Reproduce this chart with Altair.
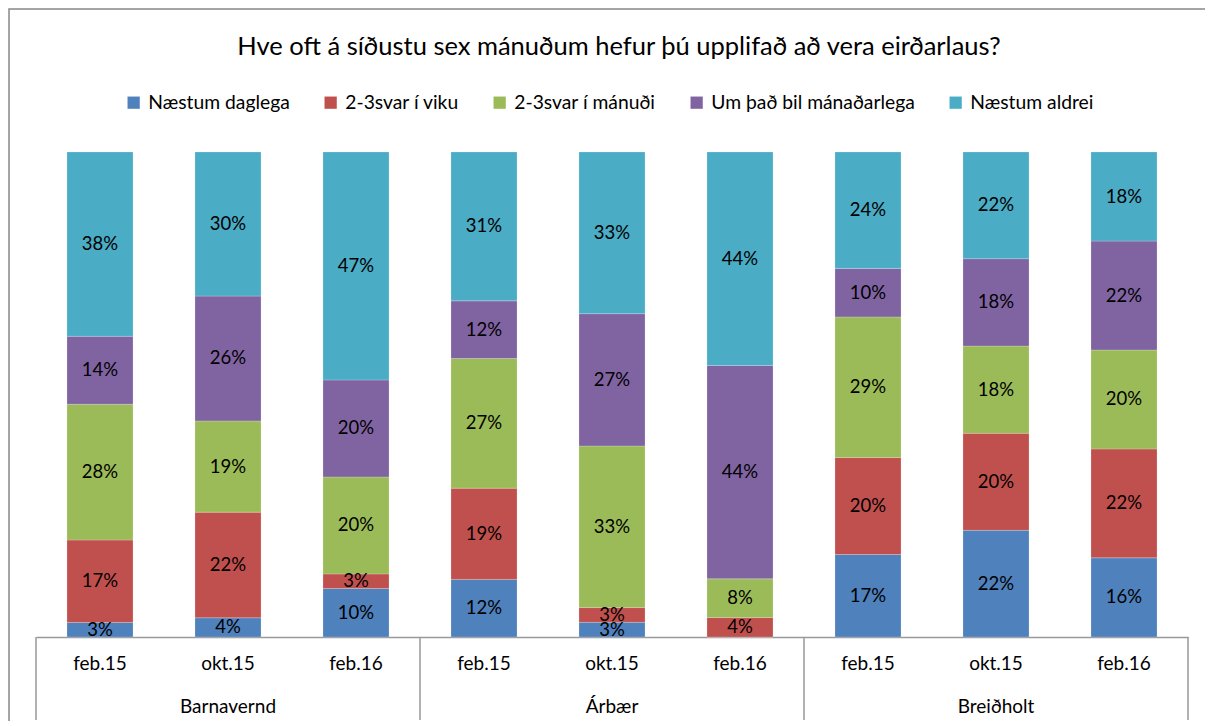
import altair as alt
import pandas as pd

groups = ["Barnavernd", "Árbær", "Breiðholt"]
periods = ["feb.15", "okt.15", "feb.16"]
series = ["Næstum daglega", "2-3svar í viku", "2-3svar í mánuði",
          "Um það bil mánaðarlega", "Næstum aldrei"]
colors = ["#4F81BD", "#C0504D", "#9BBB59", "#8064A2", "#4BACC6"]

# values per series, bars in order: Barnavernd(feb.15, okt.15, feb.16), Árbær(...), Breiðholt(...)
daglega = [3, 4, 10, 12, 3, 0, 17, 22, 16]
viku = [17, 22, 3, 19, 3, 4, 20, 20, 22]
manudi = [28, 19, 20, 27, 33, 8, 29, 18, 20]
manadarlega = [14, 26, 20, 12, 27, 44, 10, 18, 22]
aldrei = [38, 30, 47, 31, 33, 44, 24, 22, 18]

title = "Hve oft á síðustu sex mánuðum hefur þú upplifað að vera eirðarlaus?"

cats = [f"{g}|{p}" for g in groups for p in periods]
all_vals = [daglega, viku, manudi, manadarlega, aldrei]
rows = []
for si, (s, vals) in enumerate(zip(series, all_vals)):
    for ci, c in enumerate(cats):
        rows.append({"cat": c, "series": s, "ord": si, "value": vals[ci]})
df = pd.DataFrame(rows)

grp_df = pd.DataFrame({"group": groups, "cat": [f"{g}|{periods[1]}" for g in groups]})
bound_df = pd.DataFrame({"b": [0, 3, 6, 9]})
one_df = pd.DataFrame({"t": [title]})

FONT = "Lato"
W, H = 1152, 485
RIGHT = 17

xscale = alt.Scale(domain=cats, paddingInner=0.484, paddingOuter=0.242)
yscale = alt.Scale(domain=[0, 1])

x_enc = alt.X("cat:N", scale=xscale, sort=cats,
              axis=alt.Axis(title=None, ticks=False, labelExpr="split(datum.label,'|')[1]",
                            labelFont=FONT, labelFontSize=19, labelColor="#000",
                            labelPadding=17, domainColor="#999", domainWidth=1.5,
                            labelAngle=0))

bars = alt.Chart(df).mark_bar(stroke="#ffffff", strokeWidth=0.4, strokeOpacity=0.5).encode(
    x=x_enc,
    y=alt.Y("value:Q", stack="normalize", scale=yscale, axis=None),
    color=alt.Color("series:N", scale=alt.Scale(domain=series, range=colors),
                    legend=alt.Legend(title=None, orient="none", direction="horizontal",
                                      legendX=88, legendY=-59, symbolType="square",
                                      symbolSize=150, symbolStrokeWidth=0,
                                      labelFont=FONT, labelFontSize=19.3, labelColor="#000",
                                      labelLimit=0, columnPadding=31, labelOffset=5)),
    order=alt.Order("ord:Q"),
)

labels = alt.Chart(df).transform_joinaggregate(
    total="sum(value)", groupby=["cat"]
).transform_window(
    cum="sum(value)", sort=[alt.SortField("ord")], groupby=["cat"]
).transform_calculate(
    mid="(datum.cum - datum.value/2)/datum.total",
    lab="datum.value + '%'"
).transform_filter("datum.value > 0").mark_text(
    font=FONT, fontSize=18.5, color="#000", baseline="middle"
).encode(
    x=alt.X("cat:N", scale=xscale, sort=cats),
    y=alt.Y("mid:Q", scale=yscale, axis=None),
    text="lab:N",
)

grp_text = alt.Chart(grp_df).mark_text(
    font=FONT, fontSize=19, color="#000", baseline="alphabetic"
).encode(
    x=alt.X("cat:N", scale=xscale, sort=cats),
    y=alt.value(561),
    text="group:N",
)

seps = alt.Chart(bound_df).mark_rule(color="#999", strokeWidth=1.5).encode(
    x=alt.X("b:Q", scale=alt.Scale(domain=[0, 9]), axis=None),
    y=alt.value(H),
    y2=alt.value(568),
)

frame = alt.Chart(one_df).mark_rect(fill=None, stroke="#888", strokeWidth=1.5).encode(
    x=alt.value(-27), x2=alt.value(W + 120), y=alt.value(-143), y2=alt.value(H + 150)
)

cover = alt.Chart(one_df).mark_rule(color="#ffffff", strokeWidth=3).encode(
    x=alt.value(W + RIGHT - 0.5), y=alt.value(-140), y2=alt.value(H + 150)
)

title_text = alt.Chart(one_df).mark_text(
    font=FONT, fontSize=25.5, color="#000", baseline="alphabetic", align="center"
).encode(
    x=alt.value(583), y=alt.value(-97), text="t:N"
)

core = alt.layer(bars, labels, grp_text).resolve_scale(x="shared")
chart = alt.layer(frame, core, seps, title_text, cover).resolve_scale(x="independent").properties(
    width=W, height=H,
    background="#ffffff",
    autosize=alt.AutoSizeParams(type="none"),
    padding={"left": 28, "top": 144, "right": RIGHT, "bottom": 84},
).configure_view(stroke=None)

chart.save("out.html", embed_options={"renderer": "svg", "actions": False})
